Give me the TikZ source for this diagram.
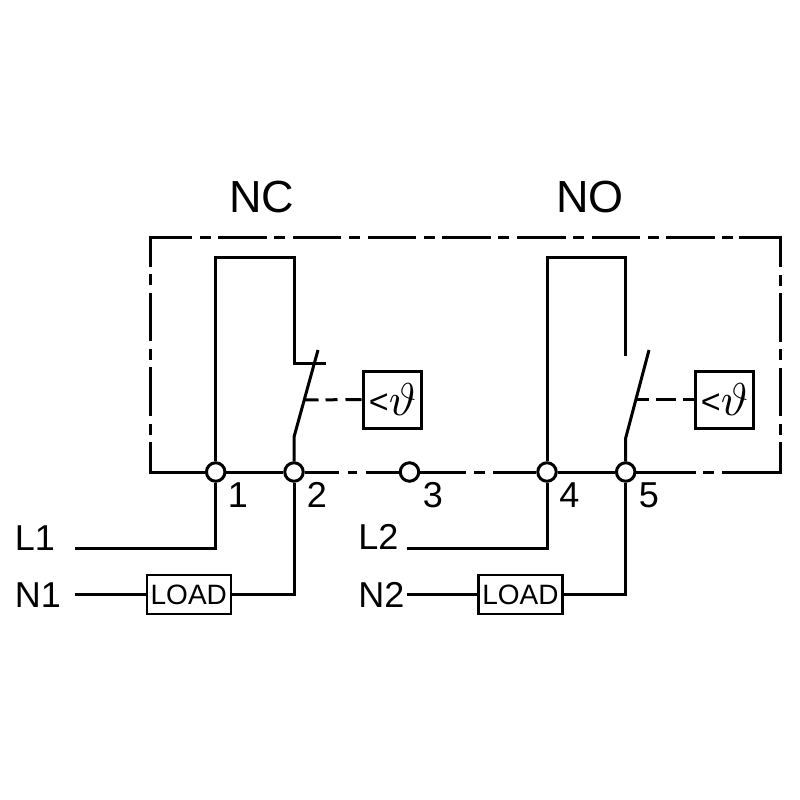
\documentclass[tikz,border=0pt]{standalone}
\usepackage{graphicx}
\usepackage{fontspec}
\setmainfont{Liberation Sans}
\tikzset{
  wire/.style={line width=3pt, black, line join=miter},
  term/.style={circle, draw, wire, fill=white, minimum size=18.5pt, inner sep=0pt},
  longdash/.style={wire, dash pattern=on 48.5pt off 7.5pt on 11pt off 7.7pt, dash phase=48.5pt},
  loadbox/.style={draw, wire, line width=2.6pt, minimum width=84pt, minimum height=39pt, inner sep=0pt, font=\fontsize{28}{28}\selectfont},
  sensor/.style={draw, wire, minimum width=58pt, minimum height=57pt, inner sep=0pt},
  biglabel/.style={inner sep=0pt, font=\fontsize{45}{45}\selectfont},
  midlabel/.style={inner sep=0pt, font=\fontsize{36}{36}\selectfont},
}
\newcommand{\tempsym}{\hspace{1pt}\raisebox{2pt}{\fontsize{34}{34}\selectfont<}\hspace{0pt}\scalebox{4.6}{$\vartheta$}}
\begin{document}
\begin{tikzpicture}[x=1pt,y=-1pt]
\useasboundingbox (0,0) rectangle (800,800);
\fill[white] (0,0) rectangle (800,800);
% frame coordinates
\coordinate (tl) at (150,237);
\coordinate (tr) at (780,237);
\coordinate (bl) at (150,472);
\coordinate (br) at (780,472);
\coordinate (tlA) at (150,267);
\coordinate (tlB) at (192,237);
\coordinate (trA) at (738.5,237);
\coordinate (trB) at (780,267);
\coordinate (blA) at (150,442);
\coordinate (brA) at (780,442);
% terminals
\node[term] (t1) at (215.7,472) {};
\node[term] (t2) at (294,472) {};
\node[term] (t3) at (409.5,472) {};
\node[term] (t4) at (547,472) {};
\node[term] (t5) at (625.7,472) {};
% frame
\draw[wire] (tlA) -- (tl) -- (tlB);
\draw[wire] (trA) -- (tr) -- (trB);
\draw[longdash] (tlB) -- (trA);
\draw[longdash] (blA) -- (tlA);
\draw[longdash] (trB) -- (brA);
\draw[wire] (blA) -- (bl) -- (t1);
\draw[wire] (t1) -- (t2);
\draw[wire, dash pattern=on 34pt off 9pt on 9.5pt off 9pt on 100pt] (t2) -- (t3);
\draw[wire, dash pattern=on 46pt off 8pt on 11pt off 8pt on 100pt] (t3) -- (t4);
\draw[wire] (t4) -- (t5);
\draw[wire, dash pattern=on 59.3pt off 7pt on 11pt off 8pt on 200pt] (t5) -- (br) -- (brA);
% NC contact
\coordinate (ncTopL) at (215.7,257);
\coordinate (ncTopR) at (294,257);
\coordinate (ncFix) at (294,363);
\coordinate (ncStop) at (326,363);
\coordinate (ncPivot) at (294,437);
\coordinate (ncTip) at (318,350);
\coordinate (ncTap) at (304.5,400);
\draw[wire] (t1) -- (ncTopL) -- (ncTopR) -- (ncFix) -- (ncStop);
\draw[wire] (t2) -- (ncPivot) -- (ncTip);
\node[sensor] (ncS) at (392,399.5) {\tempsym};
\draw[wire, dash pattern=on 14pt off 7pt on 12pt off 8pt on 30pt] (ncTap) -- (ncS.west);
% NO contact
\coordinate (noTopL) at (547,257);
\coordinate (noTopR) at (625.7,257);
\coordinate (noFix) at (625.7,356);
\coordinate (noPivot) at (625.7,438);
\coordinate (noTip) at (649,350);
\coordinate (noTap) at (636,399.5);
\draw[wire] (t4) -- (noTopL) -- (noTopR) -- (noFix);
\draw[wire] (t5) -- (noPivot) -- (noTip);
\node[sensor] (noS) at (724,399.5) {\tempsym};
\draw[wire, dash pattern=on 13pt off 7pt on 20pt off 7pt on 30pt] (noTap) -- (noS.west);
% external wiring
\coordinate (l1s) at (75,548);
\coordinate (n1s) at (75,594);
\coordinate (l2s) at (406.7,548);
\coordinate (n2s) at (406.7,594);
\node[loadbox] (load1) at (188.8,594.5) {LOAD};
\node[loadbox] (load2) at (520.5,594.5) {LOAD};
\draw[wire] (l1s) -| (t1);
\draw[wire] (l2s) -| (t4);
\draw[wire] (n1s) -- (n1s -| load1.west);
\draw[wire] (n2s) -- (n2s -| load2.west);
\draw[wire] (load1.east) -| (t2);
\draw[wire] (load2.east) -| (t5);
% labels
\node[biglabel] (nc) at (262,197) {NC};
\node[biglabel] (no) at (590,197) {NO};
\node[midlabel] (n1) at (238,495) {1};
\node[midlabel] (n2) at (317,495) {2};
\node[midlabel] (n3) at (433,495) {3};
\node[midlabel] (n4) at (569.5,495) {4};
\node[midlabel] (n5) at (649,495) {5};
\node[midlabel] (L1) at (35,538) {L1};
\node[midlabel] (N1) at (38,595) {N1};
\node[midlabel] (L2) at (378.5,537) {L2};
\node[midlabel] (N2) at (381.5,595) {N2};
\end{tikzpicture}
\end{document}
